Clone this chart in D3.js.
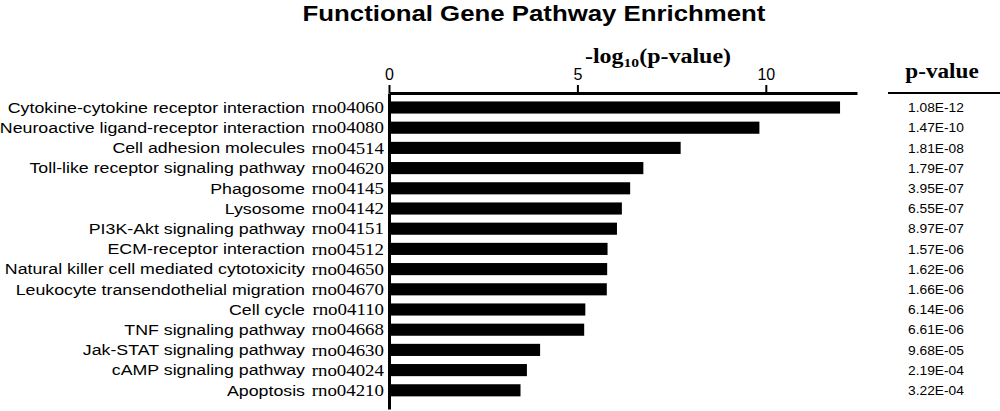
<!DOCTYPE html>
<html><head><meta charset="utf-8">
<script src="https://cdn.jsdelivr.net/npm/d3@7"></script>
<style>body{margin:0;background:#fff}svg{display:block}</style>
</head><body>
<script>
const pathways = ["Cytokine-cytokine receptor interaction","Neuroactive ligand-receptor interaction","Cell adhesion molecules","Toll-like receptor signaling pathway","Phagosome","Lysosome","PI3K-Akt signaling pathway","ECM-receptor interaction","Natural killer cell mediated cytotoxicity","Leukocyte transendothelial migration","Cell cycle","TNF signaling pathway","Jak-STAT signaling pathway","cAMP signaling pathway","Apoptosis"];
const codes = ["rno04060","rno04080","rno04514","rno04620","rno04145","rno04142","rno04151","rno04512","rno04650","rno04670","rno04110","rno04668","rno04630","rno04024","rno04210"];
const negLogP = [11.97,9.83,7.74,6.75,6.40,6.18,6.05,5.80,5.79,5.78,5.21,5.18,4.01,3.66,3.49];
const pLabels = ["1.08E-12","1.47E-10","1.81E-08","1.79E-07","3.95E-07","6.55E-07","8.97E-07","1.57E-06","1.62E-06","1.66E-06","6.14E-06","6.61E-06","9.68E-05","2.19E-04","3.22E-04"];
const xTicks = [0,5,10];

const W=1000,H=411;
const svg=d3.select("body").append("svg").attr("width",W).attr("height",H);
const x0=389, axisY=93;
const x=d3.scaleLinear().domain([0,12.42]).range([x0,857]);
const y=d3.scaleBand().domain(d3.range(pathways.length)).range([97.4,400.4]).paddingInner(0.4).paddingOuter(0.2);
const SANS="Liberation Sans, Arial, sans-serif", SERIF="Liberation Serif, Times New Roman, serif";

// helper: horizontally stretched group anchored at ax
function stretched(ax, sx){ return svg.append("g").attr("transform",`translate(${ax},0) scale(${sx},1)`); }

stretched(534,1.2).append("text").attr("x",0).attr("y",21).attr("text-anchor","middle")
  .attr("font-family",SANS).attr("font-weight","bold").attr("font-size",21.5)
  .text("Functional Gene Pathway Enrichment");

const t=stretched(658,1.2).append("text").attr("x",0).attr("y",63).attr("text-anchor","middle")
  .attr("font-family",SERIF).attr("font-weight","bold").attr("font-size",20);
t.append("tspan").text("-log");
t.append("tspan").attr("font-size",13).attr("dy",4).text("10");
t.append("tspan").attr("dy",-4).text("(p-value)");

// bars
svg.append("g").selectAll("rect").data(negLogP).join("rect")
  .attr("x",x(0)).attr("y",(d,i)=>y(i)).attr("width",d=>x(d)-x(0)).attr("height",y.bandwidth()).attr("fill","#000");

// top axis
const ax=svg.append("g").attr("transform",`translate(0,${axisY})`)
  .call(d3.axisTop(x).tickValues(xTicks).tickSize(8).tickSizeOuter(0).tickFormat(d3.format("d")));
ax.select(".domain").attr("stroke-width",3);
ax.selectAll(".tick line").attr("stroke-width",2);
ax.selectAll(".tick text").attr("font-family","Liberation Sans Narrow, Arial Narrow, Liberation Sans, sans-serif")
  .attr("font-size",16).attr("dy","-0.1em").attr("fill","#000");

// left axis line
const ay=svg.append("g").attr("transform",`translate(${x0},0)`)
  .call(d3.axisLeft(d3.scaleLinear().domain([0,1]).range([axisY,409])).ticks(0).tickSizeOuter(0));
ay.select(".domain").attr("stroke-width",3);

// labels
stretched(305,1.185).selectAll("text").data(pathways).join("text")
  .attr("x",0).attr("y",(d,i)=>y(i)+y.bandwidth()/2).attr("dy","0.36em").attr("text-anchor","end")
  .attr("font-family",SANS).attr("font-size",15).text(d=>d);
stretched(384,1.18).selectAll("text").data(codes).join("text")
  .attr("x",0).attr("y",(d,i)=>y(i)+y.bandwidth()/2).attr("dy","0.36em").attr("text-anchor","end")
  .attr("font-family",SERIF).attr("font-size",16).text(d=>d);

// p-value column
stretched(942,1.16).append("text").attr("x",0).attr("y",78).attr("text-anchor","middle")
  .attr("font-family",SERIF).attr("font-weight","bold").attr("font-size",20).text("p-value");
svg.append("line").attr("x1",888).attr("x2",1000).attr("y1",93).attr("y2",93).attr("stroke","#000").attr("stroke-width",2);
stretched(936,1.06).selectAll("text").data(pLabels).join("text")
  .attr("x",0).attr("y",(d,i)=>y(i)+y.bandwidth()/2).attr("dy","0.36em").attr("text-anchor","middle")
  .attr("font-family",SANS).attr("font-size",13).text(d=>d);
</script>
</body></html>
